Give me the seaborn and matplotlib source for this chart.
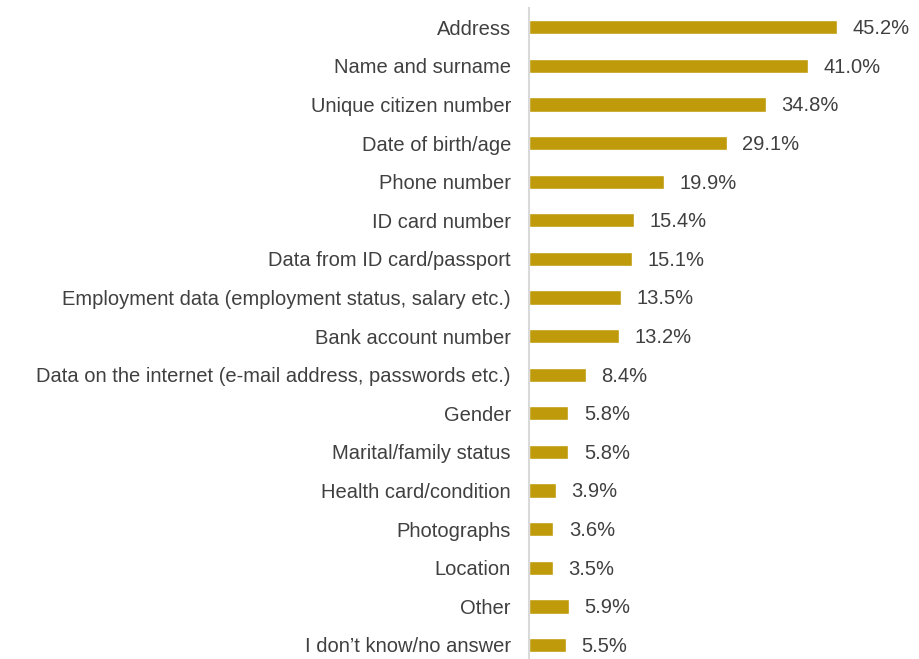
import matplotlib
matplotlib.use('Agg')
import matplotlib.pyplot as plt
import seaborn as sns
import pandas as pd

# Data
categories = [
    'Address', 'Name and surname', 'Unique citizen number', 'Date of birth/age',
    'Phone number', 'ID card number', 'Data from ID card/passport',
    'Employment data (employment status, salary etc.)', 'Bank account number',
    'Data on the internet (e-mail address, passwords etc.)', 'Gender',
    'Marital/family status', 'Health card/condition', 'Photographs', 'Location',
    'Other', 'I don\u2019t know/no answer',
]
shares = [45.2, 41.0, 34.8, 29.1, 19.9, 15.4, 15.1, 13.5, 13.2, 8.4, 5.8, 5.8,
          3.9, 3.6, 3.5, 5.9, 5.5]

df = pd.DataFrame({'category': categories, 'share': shares})

sns.set_style('white')
plt.rcParams['font.family'] = ['Liberation Sans', 'DejaVu Sans']

fig = plt.figure(figsize=(9.19, 6.59), dpi=100)
ax = fig.add_axes([0.5756, 0.0, 0.3705, 0.988])

sns.barplot(data=df, x='share', y='category', color='#BF9A0A', width=0.37,
            saturation=1, ax=ax)

# value labels
for i, v in enumerate(shares):
    ax.annotate(f'{v:.1f}%', xy=(v, i), xytext=(11, -1), textcoords='offset points',
                va='center', ha='left', fontsize=14.5, color='#404040')

ax.set_xlim(0, 50)
ax.set_ylim(16.363, -0.5)
ax.set_xlabel('')
ax.set_ylabel('')
ax.set_xticks([])
ax.tick_params(axis='y', length=0, pad=13, labelsize=14.5, labelcolor='#404040')

for side in ['top', 'right', 'bottom']:
    ax.spines[side].set_visible(False)
ax.spines['left'].set_color('#D9D9D9')
ax.spines['left'].set_linewidth(1.5)

fig.savefig('out.png', dpi=100)
